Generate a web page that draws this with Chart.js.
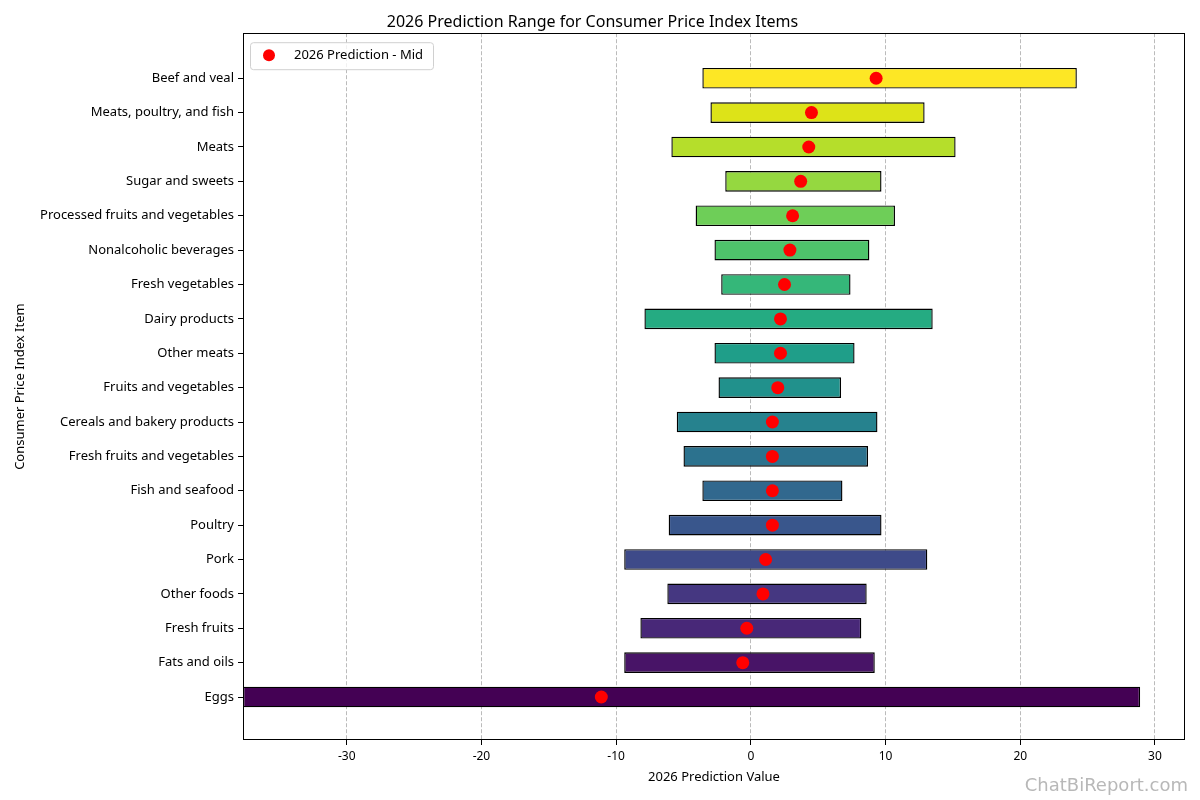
<!DOCTYPE html>
<html lang="en">
<head>
  <meta charset="UTF-8">
  <title>2026 Prediction Range</title>
  <script src="https://cdn.jsdelivr.net/npm/chart.js"></script>
  <style>
    body {
      margin: 0;
      padding: 0;
      background: #fff;
    }
    .wrap {
      width: 1200px;
      height: 800px;
    }
  </style>
</head>
<body>
  <div class="wrap"><canvas id="rangeChart"></canvas></div>

  <script>
    // items listed top to bottom
    const items = [
      'Beef and veal', 'Meats, poultry, and fish', 'Meats', 'Sugar and sweets',
      'Processed fruits and vegetables', 'Nonalcoholic beverages', 'Fresh vegetables',
      'Dairy products', 'Other meats', 'Fruits and vegetables', 'Cereals and bakery products',
      'Fresh fruits and vegetables', 'Fish and seafood', 'Poultry', 'Pork', 'Other foods',
      'Fresh fruits', 'Fats and oils', 'Eggs'
    ];
    const lowValues = [-3.6, -3.0, -5.9, -1.9, -4.1, -2.7, -2.2, -7.9, -2.7, -2.4, -5.5, -5.0, -3.6, -6.1, -9.4, -6.2, -8.2, -9.4, -37.7];
    const highValues = [24.2, 12.9, 15.2, 9.7, 10.7, 8.8, 7.4, 13.5, 7.7, 6.7, 9.4, 8.7, 6.8, 9.7, 13.1, 8.6, 8.2, 9.2, 28.9];
    const midValues = [9.3, 4.5, 4.3, 3.7, 3.1, 2.9, 2.5, 2.2, 2.2, 2.0, 1.6, 1.6, 1.6, 1.6, 1.1, 0.9, -0.3, -0.6, -11.1];
    const xTicks = [-30, -20, -10, 0, 10, 20, 30];

    // viridis, bottom (Eggs) to top (Beef and veal)
    const viridis = [
      '#440154', '#481467', '#482878', '#453781', '#3e4a89', '#39568c', '#31688e',
      '#2c728e', '#26828e', '#21918c', '#1f9e89', '#25ab82', '#35b779', '#4ec36b',
      '#6ece58', '#95d840', '#b5de2b', '#dde318', '#fde725'
    ];
    const barColors = items.map((_, i) => viridis[items.length - 1 - i]);

    const FONT = "'Noto Sans', sans-serif";

    // frame, legend box and watermark
    const extras = {
      id: 'extras',
      afterDraw(chart) {
        const { ctx, chartArea: a } = chart;
        ctx.save();
        ctx.strokeStyle = '#000';
        ctx.lineWidth = 1;
        ctx.strokeRect(Math.round(a.left) + 0.5, Math.round(a.top) + 0.5,
          Math.round(a.right - a.left) - 1, Math.round(a.bottom - a.top) - 1);

        // legend
        const lx = a.left + 7, ly = a.top + 9, lw = 183, lh = 27;
        ctx.fillStyle = 'rgba(255,255,255,0.8)';
        ctx.strokeStyle = '#d0d0d0';
        ctx.beginPath();
        ctx.roundRect(lx + 0.5, ly + 0.5, lw, lh, 3);
        ctx.fill();
        ctx.stroke();
        ctx.fillStyle = 'red';
        ctx.beginPath();
        ctx.arc(lx + 19, ly + 13, 6, 0, Math.PI * 2);
        ctx.fill();
        ctx.fillStyle = '#000';
        ctx.font = '13px ' + FONT;
        ctx.textBaseline = 'middle';
        ctx.fillText('2026 Prediction - Mid', lx + 44, ly + 13.5);

        // watermark
        ctx.fillStyle = '#b8b8b8';
        ctx.font = "18px 'DejaVu Sans', sans-serif";
        ctx.textAlign = 'right';
        ctx.textBaseline = 'alphabetic';
        ctx.fillText('ChatBiReport.com', 1188, 791);
        ctx.restore();
      }
    };

    const ctx = document.getElementById('rangeChart').getContext('2d');
    new Chart(ctx, {
      data: {
        datasets: [
          {
            type: 'line',
            label: '2026 Prediction - Mid',
            data: items.map((_, i) => ({ x: midValues[i], y: i })),
            showLine: false,
            pointRadius: 6.5,
            pointHoverRadius: 6.5,
            pointBackgroundColor: 'red',
            pointBorderWidth: 0
          },
          {
            type: 'bar',
            label: 'Range',
            data: items.map((_, i) => ({ x: [lowValues[i], highValues[i]], y: i })),
            backgroundColor: barColors,
            borderColor: '#000',
            borderWidth: 1.4,
            borderSkipped: false,
            barPercentage: 0.6,
            categoryPercentage: 1
          }
        ]
      },
      options: {
        indexAxis: 'y',
        responsive: true,
        maintainAspectRatio: false,
        animation: false,
        layout: { padding: { left: 0, right: 15, top: 0, bottom: 0 } },
        plugins: {
          legend: { display: false },
          tooltip: { enabled: false },
          title: {
            display: true,
            text: '2026 Prediction Range for Consumer Price Index Items',
            color: '#000',
            font: { family: FONT, size: 16, weight: 'normal' },
            padding: { top: 13, bottom: 1 }
          }
        },
        scales: {
          x: {
            type: 'linear',
            position: 'bottom',
            min: -37.7,
            max: 32.23,
            z: 1,
            afterBuildTicks: s => { s.ticks = xTicks.map(v => ({ value: v })); },
            afterFit: s => { s.height = 60; },
            grid: {
              color: 'rgba(170,170,170,0.8)',
              lineWidth: 1,
              tickColor: '#000',
              tickLength: 5,
              tickWidth: 1
            },
            border: { display: false, dash: [4, 2] },
            ticks: { color: '#000', padding: 4, font: { family: FONT, size: 12 } },
            title: {
              display: true,
              text: '2026 Prediction Value',
              color: '#000',
              font: { family: FONT, size: 13 },
              padding: { top: 4, bottom: 15 }
            }
          },
          y: {
            type: 'linear',
            reverse: true,
            offset: false,
            min: -1.31,
            max: 19.25,
            afterBuildTicks: s => { s.ticks = items.map((_, i) => ({ value: i })); },
            afterFit: s => { s.width = 243; },
            grid: {
              offset: false,
              drawOnChartArea: false,
              tickColor: '#000',
              tickLength: 5,
              tickWidth: 1
            },
            border: { display: false },
            ticks: {
              color: '#000',
              padding: 4,
              autoSkip: false,
              font: { family: FONT, size: 13 },
              callback: v => items[v]
            },
            title: {
              display: true,
              text: 'Consumer Price Index Item',
              color: '#000',
              font: { family: FONT, size: 13 },
              padding: { top: 12, bottom: 0 }
            }
          }
        }
      },
      plugins: [extras]
    });
  </script>
</body>
</html>
